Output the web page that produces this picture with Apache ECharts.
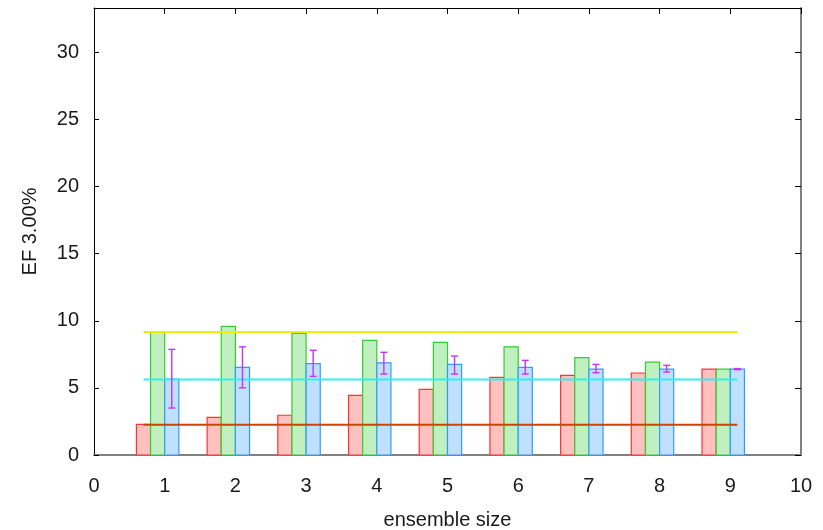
<!DOCTYPE html>
<html>
<head>
<meta charset="utf-8">
<script src="https://cdn.jsdelivr.net/npm/echarts@6.0.0/dist/echarts.min.js"></script>
<style>
  html, body { margin: 0; padding: 0; background: #ffffff; }
  #chart { width: 823px; height: 530px; }
</style>
</head>
<body>
<div id="chart"></div>
<script>
// Ensemble sizes along the x axis
var ensembleSizes = [1, 2, 3, 4, 5, 6, 7, 8, 9];

// Enrichment factor at 3.00% for the three methods
var redValues   = [2.28, 2.81, 2.96, 4.44, 4.89, 5.79, 5.93, 6.11, 6.40];
var greenValues = [9.20, 9.58, 9.06, 8.54, 8.39, 8.06, 7.25, 6.92, 6.40];
var blueValues  = [5.65, 6.53, 6.80, 6.87, 6.75, 6.53, 6.40, 6.40, 6.40];

// Spread of the blue method (lower / upper whisker ends)
var blueErrLow  = [3.50, 5.01, 5.86, 6.03, 6.03, 6.03, 6.13, 6.18, 6.36];
var blueErrHigh = [7.87, 8.06, 7.80, 7.65, 7.37, 7.05, 6.75, 6.68, 6.44];

// Horizontal reference levels
var refYellow = 9.16;
var refCyan   = 5.62;
var refRed    = 2.26;

// Axis tick values
var xTicks = [0, 1, 2, 3, 4, 5, 6, 7, 8, 9, 10];
var yTicks = [0, 5, 10, 15, 20, 25, 30];

var X_MIN = xTicks[0], X_MAX = xTicks[xTicks.length - 1];
var Y_MIN = 0, Y_MAX = 33.3;
var BAR_HALF = 0.1;
var OFFSETS = { red: -0.3, green: -0.1, blue: 0.1 };
var FONT = '"Liberation Sans", Arial, sans-serif';
var TEXT_COLOR = '#1a1a1a';
var FONT_SIZE = 20;

function barSeries(name, values, offset, fill, stroke) {
  return {
    type: 'custom',
    name: name,
    xAxisIndex: 0,
    yAxisIndex: 0,
    z: 2,
    data: ensembleSizes.map(function (s, i) { return [s + offset, values[i]]; }),
    renderItem: function (params, api) {
      var x = api.value(0), y = api.value(1);
      var p0 = api.coord([x - BAR_HALF, 0]);
      var p1 = api.coord([x + BAR_HALF, y]);
      return {
        type: 'rect',
        shape: { x: p0[0], y: p1[1], width: p1[0] - p0[0], height: p0[1] - p1[1] },
        style: { fill: fill, stroke: stroke, lineWidth: 1.2 }
      };
    }
  };
}

function refLine(value, color) {
  var first = ensembleSizes[0] + OFFSETS.red;
  var last = ensembleSizes[ensembleSizes.length - 1] + OFFSETS.blue;
  return {
    type: 'line',
    xAxisIndex: 0,
    yAxisIndex: 0,
    z: 3,
    symbol: 'none',
    silent: true,
    lineStyle: { color: color, width: 2 },
    data: [[first, value], [last, value]]
  };
}

var errorSeries = {
  type: 'custom',
  xAxisIndex: 0,
  yAxisIndex: 0,
  z: 4,
  data: ensembleSizes.map(function (s, i) { return [s + OFFSETS.blue, blueErrLow[i], blueErrHigh[i]]; }),
  renderItem: function (params, api) {
    var x = api.value(0);
    var lo = api.coord([x, api.value(1)]);
    var hi = api.coord([x, api.value(2)]);
    var cap = 3.5;
    var style = { stroke: '#c435f2', lineWidth: 1.4 };
    return {
      type: 'group',
      children: [
        { type: 'line', shape: { x1: lo[0], y1: lo[1], x2: hi[0], y2: hi[1] }, style: style },
        { type: 'line', shape: { x1: lo[0] - cap, y1: lo[1], x2: lo[0] + cap, y2: lo[1] }, style: style },
        { type: 'line', shape: { x1: hi[0] - cap, y1: hi[1], x2: hi[0] + cap, y2: hi[1] }, style: style }
      ]
    };
  }
};

var chart = echarts.init(document.getElementById('chart'), null, { renderer: 'canvas' });

chart.setOption({
  animation: false,
  backgroundColor: '#ffffff',
  grid: {
    left: 94, right: 22, top: 8, bottom: 75,
    outerBoundsMode: 'none',
    containLabel: false
  },
  xAxis: [
    {
      type: 'value', position: 'bottom',
      min: X_MIN, max: X_MAX, interval: 1,
      axisLine: { show: true, onZero: false, lineStyle: { color: '#808080', width: 2 } },
      axisTick: { show: false },
      splitLine: { show: false },
      axisLabel: {
        margin: 21, fontSize: FONT_SIZE, color: TEXT_COLOR, fontFamily: FONT,
        formatter: function (v) { return xTicks.indexOf(v) >= 0 ? String(v) : ''; }
      },
      name: 'ensemble size',
      nameLocation: 'middle',
      nameGap: 55,
      nameTextStyle: { fontSize: FONT_SIZE, color: TEXT_COLOR, fontFamily: FONT }
    },
    {
      type: 'value', position: 'top',
      min: X_MIN, max: X_MAX, interval: 1,
      axisLine: { show: true, onZero: false, lineStyle: { color: '#000000', width: 1 } },
      axisTick: { show: true, inside: true, length: 6, lineStyle: { color: '#000000' } },
      axisLabel: { show: false },
      splitLine: { show: false }
    }
  ],
  yAxis: [
    {
      type: 'value', position: 'left',
      min: Y_MIN, max: Y_MAX, interval: 5,
      axisLine: { show: true, onZero: false, lineStyle: { color: '#000000', width: 1 } },
      axisTick: { show: true, inside: true, length: 5, lineStyle: { color: '#000000' } },
      splitLine: { show: false },
      axisLabel: {
        margin: 15, fontSize: FONT_SIZE, color: TEXT_COLOR, fontFamily: FONT,
        showMaxLabel: false,
        formatter: function (v) { return yTicks.indexOf(v) >= 0 ? String(v) : ''; }
      },
      name: 'EF 3.00%',
      nameLocation: 'middle',
      nameGap: 54,
      nameRotate: 90,
      nameTextStyle: { fontSize: FONT_SIZE, color: TEXT_COLOR, fontFamily: FONT }
    },
    {
      type: 'value', position: 'right',
      min: Y_MIN, max: Y_MAX, interval: 5,
      axisLine: { show: true, onZero: false, lineStyle: { color: '#808080', width: 2 } },
      axisTick: { show: true, inside: true, length: 6, lineStyle: { color: '#000000' } },
      axisLabel: { show: false },
      splitLine: { show: false }
    }
  ],
  series: [
    barSeries('red', redValues, OFFSETS.red, '#ffc0c0', '#ff3333'),
    barSeries('green', greenValues, OFFSETS.green, '#c0f0c0', '#33cc33'),
    barSeries('blue', blueValues, OFFSETS.blue, '#c0e0ff', '#3399ff'),
    refLine(refYellow, '#eeee00'),
    refLine(refCyan, '#33eeee'),
    refLine(refRed, '#cc4400'),
    errorSeries
  ]
});
</script>
</body>
</html>
